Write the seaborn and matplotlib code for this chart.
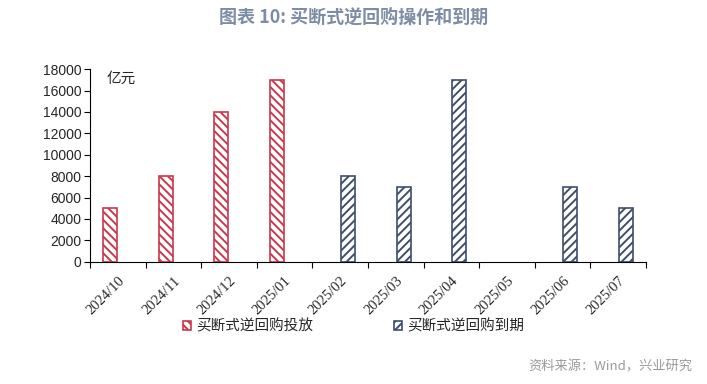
import matplotlib.pyplot as plt
import matplotlib.patches as mpatches
import numpy as np
import pandas as pd
import seaborn as sns

sns.set_theme(style="white")
plt.rcParams["font.family"] = ["Liberation Sans", "Noto Sans CJK SC"]
plt.rcParams["hatch.linewidth"] = 1.4

# --- data (亿元) -----------------------------------------------------------
months = ["2024/10", "2024/11", "2024/12", "2025/01", "2025/02",
          "2025/03", "2025/04", "2025/05", "2025/06", "2025/07"]
release = [5000, 8000, 14000, 17000, np.nan, np.nan, np.nan, np.nan, np.nan, np.nan]
maturity = [np.nan, np.nan, np.nan, np.nan, 8000, 7000, 17000, np.nan, 7000, 5000]
series = ["买断式逆回购投放", "买断式逆回购到期"]

RED = "#C9384C"
BLUE = "#3E4E6C"

df = pd.DataFrame({
    "month": months * 2,
    "series": [series[0]] * len(months) + [series[1]] * len(months),
    "value": release + maturity,
})

fig = plt.figure(figsize=(7.07, 3.84), dpi=100)
ax = fig.add_axes([0.1273, 0.3185, 0.7864, 0.5015])

sns.barplot(data=df, x="month", y="value", hue="series", order=months,
            hue_order=series, palette=[RED, BLUE], width=0.56, gap=0.1,
            dodge=True, ax=ax, legend=False)

for container, col, hatch in zip(ax.containers, [RED, BLUE], ["\\\\\\\\", "////"]):
    for bar in container:
        bar.set_facecolor("white")
        bar.set_edgecolor(col)
        bar.set_hatch(hatch)
        bar.set_linewidth(1.2)

ax.set_ylim(0, 18000)
ax.set_xlim(-0.5, len(months) - 0.5)
ax.set_yticks(np.arange(0, 18001, 2000))
ax.tick_params(axis="y", labelsize=10, length=4, width=0.8, color="black",
               direction="out", left=True, pad=2)
ax.set_xticks(range(len(months)))
ax.set_xticklabels(months, rotation=45, ha="right", rotation_mode="anchor",
                   fontsize=10.5, family=["Liberation Serif"])
ax.tick_params(axis="x", length=0, pad=9)
ax.set_xticks(np.arange(-0.5, len(months)), minor=True)
ax.tick_params(axis="x", which="minor", length=4, width=0.8, color="black",
               direction="out", bottom=True)
ax.set_xlabel("")
ax.set_ylabel("")
for s in ["top", "right"]:
    ax.spines[s].set_visible(False)
for s in ["left", "bottom"]:
    ax.spines[s].set_color("black")
    ax.spines[s].set_linewidth(0.8)

ax.text(0.03, 0.95, "亿元", transform=ax.transAxes, fontsize=10.5,
        family=["Noto Sans CJK SC"], va="center", ha="left")

handles = [mpatches.Patch(facecolor="white", edgecolor=RED, hatch="\\\\\\\\", lw=1.2),
           mpatches.Patch(facecolor="white", edgecolor=BLUE, hatch="////", lw=1.2)]
fig.legend(handles, series, loc="center", bbox_to_anchor=(0.5, 0.150), ncol=2,
           frameon=False, handlelength=0.6, handleheight=0.6, handletextpad=0.35,
           columnspacing=5.5, prop={"family": "Noto Sans CJK SC", "size": 10.5})

fig.text(0.5, 0.955, "图表 10: 买断式逆回购操作和到期", ha="center", va="center",
         fontsize=13, fontweight="bold", color="#7D8DA6",
         family=["Noto Sans CJK SC"])
fig.text(0.98, 0.045, "资料来源：Wind，兴业研究", ha="right", va="center",
         fontsize=9.5, color="#9A9A9A", family=["Noto Sans CJK SC"])

fig.savefig("out.png", dpi=100)
